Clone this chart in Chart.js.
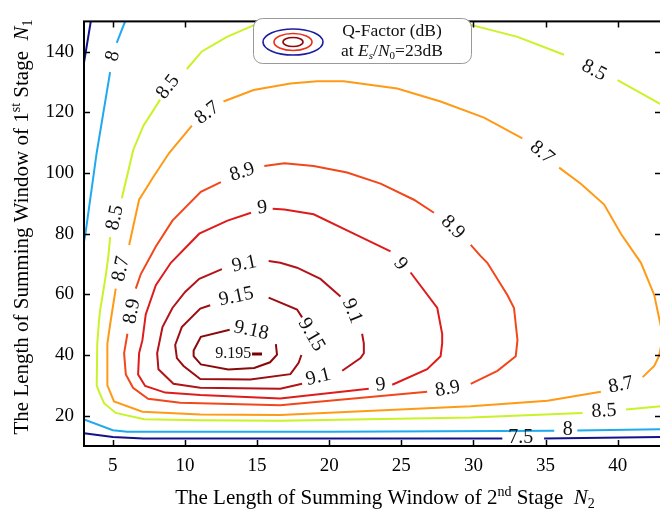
<!DOCTYPE html>
<html lang="en">
<head>
<meta charset="UTF-8">
<title>Q-Factor contour</title>
<script src="https://cdn.jsdelivr.net/npm/chart.js@4.4.0/dist/chart.umd.min.js"></script>
<style>
body { margin: 0; background: #fff; overflow: hidden; }
#wrap { width: 660px; height: 514px; overflow: hidden; }
</style>
</head>
<body>
<div id="wrap"><canvas id="qChart" width="664" height="514"></canvas></div>
<script>
// axis ticks
const xTicks = [5, 10, 15, 20, 25, 30, 35, 40];
const yTicks = [20, 40, 60, 80, 100, 120, 140];

// contour lines, points are [N2, N1], null = break in the line
const q75 = [[3,14.2],[5.0,13.0],[7.1,12.5],[32.0,12.5],null,[34.9,12.5],[43,13.0],null,[3,136.4],[3.47,150]];
const q8 = [[3,18.8],[5.0,15.2],[6.0,14.7],[20,14.7],[35.6,15.0],null,[37.2,15.1],[43,15.5],null,
  [3,77.5],[3.07,79],[3.88,106.7],[4.81,133.3],null,[5.27,142.9],[5.85,150]];
const q85 = [[43,23.1],[40.57,22.0],null,[37.56,20.9],[29.81,19.4],[16.6,18.3],[11.06,18.5],[7.17,18.8],[5.2,20.9],
  [4.39,24.1],[4.04,27.9],[3.88,30.0],[3.92,43.8],[4.04,51.3],[4.11,54.5],[4.51,66.2],[4.69,72.6],[4.81,78.9],null,
  [5.62,91.7],[6.42,107.7],[7.12,115.6],[8.28,124.2],null,[10.13,134.3],[11.17,140.1],[12.91,144.9],[14.99,149.2],[15.45,150],null,
  [28.65,150],[30.03,148.6],[33.05,144.9],[36.28,139.0],null,[39.99,130.6],[43,122.6]];
const q87 = [[35.94,101.8],[37.44,96.5],[39.06,89.6],[40.22,80.0],[41.61,70.4],[42.53,59.8],[43,49.3],[43.05,44],[42.86,39.6],
  [42.53,36.4],[41.73,32.7],null,[38.83,27.9],[35.13,24.9],[29.81,23.1],[16.6,20.2],[11.06,20.4],[7.05,21.3],[5.08,24.7],
  [4.62,30.0],[4.62,43.8],[4.85,51.3],[5.2,61.9],null,[6.13,76.3],[6.82,91.2],[7.86,99.1],[8.9,106.6],[10.48,115.6],null,
  [12.67,123.6],[14.76,127.4],[17.31,129.5],[19.16,130.3],[21.01,130.3],[24.71,127.9],[27.72,123.6],[30.73,118.3],[33.39,111.4]];
const q89 = [[29.81,76.3],[30.5,72.6],[30.96,70.4],[32.35,59.8],[32.81,55.5],[33.05,44.9],[32.93,39.6],[31.66,34.8],[29.81,30.5],null,
  [26.79,27.9],[16.6,23.4],[9.67,24.3],[7.44,25.6],[6.4,29.2],[5.9,33.6],[5.78,40.6],[6.01,47.0],null,
  [6.59,61.9],[6.94,66.7],[7.98,75.8],[9.13,84.3],[11.1,93.8],[12.49,97.0],null,
  [15.5,102.3],[16.89,103.2],[18.92,102.3],[21.24,100.2],[23.56,96.5],[25.87,91.2],[27.26,86.9]];
const q9 = [[16.08,88.2],[16.89,88.0],[18.92,86.4],[21.7,80.0],[24.25,74.2],null,[25.64,67.2],[27.49,55.5],[27.83,47.0],
  [27.83,43.8],[27.72,39.6],[26.79,35.3],[24.37,30.2],null,[22.74,28.9],[16.6,25.7],[11.06,26.8],[8.63,27.6],[7.24,29.8],
  [6.75,33.6],[6.82,40.6],[7.05,44.9],[7.28,53.4],[7.98,63.0],[9.02,70.4],[10.99,80.0],[12.95,84.3],[14.58,86.9]];
const q91 = [[15.8,71.0],[16.61,70.4],[17.77,68.8],[19.39,65.1],[20.78,59.3],null,[22.28,47.0],[22.4,43.8],[22.4,40.6],
  [22.17,39.0],[20.9,34.8],null,[18.12,30.5],[16.61,28.9],[11.06,29.2],[9.2,30.5],[8.16,35.3],[8.07,40.6],[8.44,49.2],
  [9.13,55.5],[10.01,60.8],[10.99,65.1],[12.56,68.3]];
const q915 = [[15.8,58.9],[17.77,55.0],[18.12,52.4],null,[18.07,40.0],[17.88,37.4],[17.31,33.7],[14.53,31.9],[11.06,32.1],
  [9.9,36.4],[9.44,39.0],[9.32,43.3],[9.78,49.2],[11.06,55.3],[11.75,56.4]];
const q918 = [[13.1,48.3],[11.1,46.0],[10.6,41.5],[10.6,39.6],[11.1,36.9],[13.0,35.2],[14.8,35.7],[15.9,37.6],[16.38,40.1],[16.3,43.6]];
const q9195 = [[14.65,40.3],[15.34,40.3]];

// contour labels: text, N2, N1, angle (deg)
const contourLabels = [
  ['8', 5.0, 138.6, -75], ['8.5', 8.83, 128.4, -52], ['8.5', 5.15, 85.3, -78],
  ['8.7', 11.54, 119.8, -38], ['8.7', 5.57, 68.4, -78], ['8.9', 13.97, 100.3, -18],
  ['8.9', 6.33, 54.4, -80], ['9', 15.36, 88.5, -5], ['9.1', 14.11, 70.0, -12],
  ['9.15', 13.56, 59.2, -12], ['9.18', 14.6, 48.1, 12], ['9.195', 13.35, 40.3, 0],
  ['9.15', 18.76, 46.7, 60], ['9.1', 21.59, 54.5, 68], ['9', 24.94, 70.0, 52],
  ['8.9', 28.56, 82.1, 45], ['8.7', 34.74, 106.7, 40], ['8.5', 38.35, 133.8, 28],
  ['9.1', 19.25, 32.7, -14], ['9', 23.56, 30.1, -6], ['8.9', 28.21, 28.8, -10],
  ['8.7', 40.22, 30.1, -12], ['8.5', 39.04, 21.5, -3], ['8', 36.54, 15.4, 0], ['7.5', 33.28, 12.6, 0]
];

const lineColors = {
  '7.5': '#12128c', '8': '#1fa9ee', '8.5': '#c9f227', '8.7': '#ff9a16', '8.9': '#f2471b',
  '9': '#de1c1c', '9.1': '#b3141a', '9.15': '#9c0e12', '9.18': '#8a0a0c', '9.195': '#780000'
};
const contours = [[q75,'7.5'],[q8,'8'],[q85,'8.5'],[q87,'8.7'],[q89,'8.9'],[q9,'9'],[q91,'9.1'],[q915,'9.15'],[q918,'9.18'],[q9195,'9.195']];

const serif = '"Liberation Serif", "Times New Roman", serif';

// split every contour at its breaks into separate line datasets
const datasets = [];
contours.forEach(([pts, lv]) => {
  let seg = [];
  pts.concat([null]).forEach(p => {
    if (p) { seg.push({x: p[0], y: p[1]}); return; }
    if (seg.length) {
      datasets.push({
        label: lv, data: seg, showLine: true, borderColor: lineColors[lv],
        borderWidth: lv === '9.195' ? 3 : 2, pointRadius: 0, tension: 0
      });
    }
    seg = [];
  });
});

// draws a line of mixed text (sup/sub/italic), centred on x
function rich(ctx, parts, x, y) {
  let w = 0;
  parts.forEach(p => { ctx.font = p.f; w += ctx.measureText(p.t).width; });
  let cx = x - w / 2;
  parts.forEach(p => {
    ctx.font = p.f;
    ctx.fillText(p.t, cx, y + (p.dy || 0));
    cx += ctx.measureText(p.t).width;
  });
}

const decor = {
  id: 'decor',
  afterDatasetsDraw(chart) {
    const {ctx, chartArea: a, scales: {x, y}} = chart;
    ctx.save();
    // contour labels
    ctx.fillStyle = '#111';
    ctx.textAlign = 'center';
    ctx.textBaseline = 'middle';
    contourLabels.forEach(([t, lx, ly, ang]) => {
      ctx.save();
      ctx.translate(x.getPixelForValue(lx), y.getPixelForValue(ly));
      ctx.rotate(ang * Math.PI / 180);
      ctx.font = (t === '9.195' ? '16px ' : '20px ') + serif;
      ctx.fillText(t, 0, 0);
      ctx.restore();
    });

    // frame and inward ticks
    ctx.strokeStyle = '#000';
    ctx.lineWidth = 2;
    ctx.strokeRect(a.left, a.top, a.right - a.left, a.bottom - a.top);
    ctx.lineWidth = 1.5;
    ctx.beginPath();
    xTicks.forEach(v => {
      const px = Math.round(x.getPixelForValue(v)) + 0.5;
      ctx.moveTo(px, a.bottom); ctx.lineTo(px, a.bottom - 6);
      ctx.moveTo(px, a.top); ctx.lineTo(px, a.top + 6);
    });
    yTicks.forEach(v => {
      const py = Math.round(y.getPixelForValue(v)) + 0.5;
      ctx.moveTo(a.left, py); ctx.lineTo(a.left + 6, py);
      ctx.moveTo(a.right, py); ctx.lineTo(a.right - 6, py);
    });
    ctx.stroke();

    // axis titles
    ctx.fillStyle = '#000';
    ctx.textAlign = 'left';
    ctx.textBaseline = 'alphabetic';
    const big = '21px ' + serif, small = '14px ' + serif;
    rich(ctx, [
      {t: 'The Length of Summing Window of 2', f: big}, {t: 'nd', f: small, dy: -8},
      {t: ' Stage  ', f: big}, {t: 'N', f: 'italic ' + big}, {t: '2', f: small, dy: 4}
    ], 385, 504);
    ctx.save();
    ctx.translate(28, 227);
    ctx.rotate(-Math.PI / 2);
    rich(ctx, [
      {t: 'The Length of Summing Window of 1', f: big}, {t: 'st', f: small, dy: -8},
      {t: ' Stage  ', f: big}, {t: 'N', f: 'italic ' + big}, {t: '1', f: small, dy: 4}
    ], 0, 0);
    ctx.restore();

    // legend box
    ctx.fillStyle = '#fff';
    ctx.strokeStyle = '#999';
    ctx.lineWidth = 1;
    ctx.beginPath();
    ctx.roundRect(253.5, 18.5, 218, 45, 9);
    ctx.fill();
    ctx.stroke();
    [[30, 13, '#1c1ca0'], [19, 8.5, '#e8301c'], [10, 4.5, '#8a0a0c']].forEach(([rx, ry, c]) => {
      ctx.strokeStyle = c;
      ctx.lineWidth = 1.6;
      ctx.beginPath();
      ctx.ellipse(293, 42, rx, ry, 0, 0, Math.PI * 2);
      ctx.stroke();
    });
    ctx.fillStyle = '#111';
    const lf = '17.5px ' + serif, ls = '11px ' + serif;
    rich(ctx, [{t: 'Q-Factor (dB)', f: lf}], 392, 36);
    rich(ctx, [
      {t: 'at ', f: lf}, {t: 'E', f: 'italic ' + lf}, {t: 's', f: 'italic ' + ls, dy: 3},
      {t: '/', f: lf}, {t: 'N', f: 'italic ' + lf}, {t: '0', f: ls, dy: 3}, {t: '=23dB', f: lf}
    ], 392, 56);
    ctx.restore();
  }
};

const tickFont = {family: serif, size: 19};

new Chart(document.getElementById('qChart'), {
  type: 'scatter',
  data: {datasets},
  options: {
    responsive: false,
    animation: false,
    devicePixelRatio: 1,
    layout: {padding: {top: 7, right: 3, left: 0, bottom: 0}},
    plugins: {legend: {display: false}, tooltip: {enabled: false}},
    scales: {
      x: {
        type: 'linear', min: 3, max: 43,
        afterBuildTicks: s => { s.ticks = xTicks.map(v => ({value: v})); },
        afterFit: s => { s.height = 68; },
        grid: {display: false, drawTicks: false},
        border: {display: false},
        ticks: {font: tickFont, color: '#000', padding: 9, maxRotation: 0}
      },
      y: {
        type: 'linear', min: 10, max: 150,
        afterBuildTicks: s => { s.ticks = yTicks.map(v => ({value: v})); },
        afterFit: s => { s.width = 84; },
        grid: {display: false, drawTicks: false},
        border: {display: false},
        ticks: {font: tickFont, color: '#000', padding: 10}
      }
    }
  },
  plugins: [decor]
});
</script>
</body>
</html>
